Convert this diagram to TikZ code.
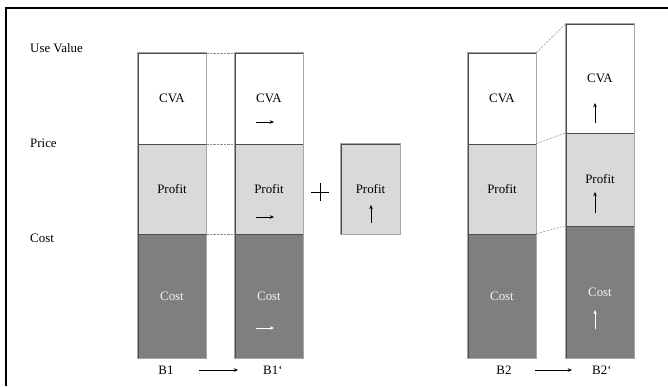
\documentclass[tikz,border=0pt]{standalone}
\usepackage{fontspec}
\setmainfont{Liberation Serif}
\usetikzlibrary{arrows.meta, calc}
\definecolor{lightbar}{HTML}{D9D9D9}
\definecolor{darkbar}{HTML}{7F7F7F}
\definecolor{baredge}{HTML}{A6A6A6}
\tikzset{
	segnode/.style={
			rectangle,
			draw=black!70,
			line width=0.4pt,
			minimum width=2.04cm,
			inner sep=0pt,
			font=\fontsize{11}{12}\selectfont
		},
	cvanode/.style={
			segnode,
			fill=white
		},
	profitnode/.style={
			segnode,
			fill=lightbar
		},
	costnode/.style={
			segnode,
			fill=darkbar,
			text=white!90!darkbar
		},
	levelnode/.style={
			anchor=west,
			inner sep=0pt,
			font=\fontsize{11}{12}\selectfont
		},
	barname/.style={
			inner sep=0pt,
			font=\fontsize{11}{12}\selectfont
		},
	baroutline/.style={
			draw=baredge,
			line width=1pt
		},
	linkline/.style={
			draw=black!45,
			line width=0.4pt,
			dash pattern=on 2pt off 1pt
		},
	trend/.style={
			-{Stealth[length=3.6pt,width=3pt]},
			line width=0.45pt
		},
	trendlight/.style={
			trend,
			white
		}
}

\begin{document}
\begin{tikzpicture}[x=0.03cm, y=-0.03cm]
\useasboundingbox (0,0) rectangle (668,386);
\draw[line width=2.2pt] (6,386) -- (6,8) -- (668,8);

\node[levelnode] (uv) at (30,48) {Use Value};
\node[levelnode] (pr) at (30,143) {Price};
\node[levelnode] (co) at (30,238) {Cost};

% B1
\node[cvanode, minimum height=2.73cm] (cva1) at (172,98.5) {CVA};
\node[profitnode, minimum height=2.7cm] (profit1) at (172,189) {Profit};
\node[costnode, minimum height=3.72cm] (cost1) at (172,296) {Cost};
\draw[baroutline] (cva1.north west) rectangle (cost1.south east);

% B1'
\node[cvanode, minimum height=2.73cm] (cva1b) at (269,98.5) {CVA};
\node[profitnode, minimum height=2.7cm] (profit1b) at (269,189) {Profit};
\node[costnode, minimum height=3.72cm] (cost1b) at (269,296) {Cost};
\draw[baroutline] (cva1b.north west) rectangle (cost1b.south east);

\draw[trend] ($(cva1b.center)+(-13,23.5)$) -- ($(cva1b.center)+(5,23.5)$);
\draw[trend] ($(profit1b.center)+(-13,28)$) -- ($(profit1b.center)+(5,28)$);
\draw[trendlight] ($(cost1b.center)+(-13,32)$) -- ($(cost1b.center)+(5,32)$);

\draw[linkline] (cva1.north east) -- (cva1b.north west);
\draw[linkline] (profit1.north east) -- (profit1b.north west);
\draw[linkline] (cost1.north east) -- (cost1b.north west);

% extra profit
\draw[line width=0.5pt] (311,192) -- (329,192) (320,183) -- (320,201);
\node[profitnode, minimum width=1.77cm, minimum height=2.7cm] (profitx) at (370.5,189) {Profit};
\draw[baroutline] (profitx.north west) rectangle (profitx.south east);
\draw[trend] ($(profitx.center)+(0.5,34)$) -- ($(profitx.center)+(0.5,16)$);

% B2
\node[cvanode, minimum height=2.73cm] (cva2) at (502,98.5) {CVA};
\node[profitnode, minimum height=2.7cm] (profit2) at (502,189) {Profit};
\node[costnode, minimum height=3.72cm] (cost2) at (502,296) {Cost};
\draw[baroutline] (cva2.north west) rectangle (cost2.south east);

% B2'
\node[cvanode, minimum height=3.27cm] (cva2b) at (600,78.5) {CVA};
\node[profitnode, minimum height=2.79cm] (profit2b) at (600,179.5) {Profit};
\node[costnode, minimum height=3.96cm] (cost2b) at (600,292) {Cost};
\draw[baroutline] (cva2b.north west) rectangle (cost2b.south east);

\draw[trend] ($(cva2b.center)+(-5,44.5)$) -- ($(cva2b.center)+(-5,24.5)$);
\draw[trend] ($(profit2b.center)+(-5,33.5)$) -- ($(profit2b.center)+(-5,12.5)$);
\draw[trendlight] ($(cost2b.center)+(-5,37)$) -- ($(cost2b.center)+(-5,18)$);

\draw[linkline] (cva2.north east) -- (cva2b.north west);
\draw[linkline] (profit2.north east) -- (profit2b.north west);
\draw[linkline] (cost2.north east) -- (cost2b.north west);

% names
\node[barname] (b1) at (166,370) {B1};
\node[barname, anchor=west] (b1b) at (263,370) {B1‘};
\node[barname] (b2) at (504,370) {B2};
\node[barname, anchor=west] (b2b) at (592,370) {B2‘};
\draw[trend, shorten <=0.75cm, shorten >=0.75cm] (b1) -- (b1b);
\draw[trend, shorten <=0.69cm, shorten >=0.6cm] (b2) -- (b2b);
\end{tikzpicture}
\end{document}
